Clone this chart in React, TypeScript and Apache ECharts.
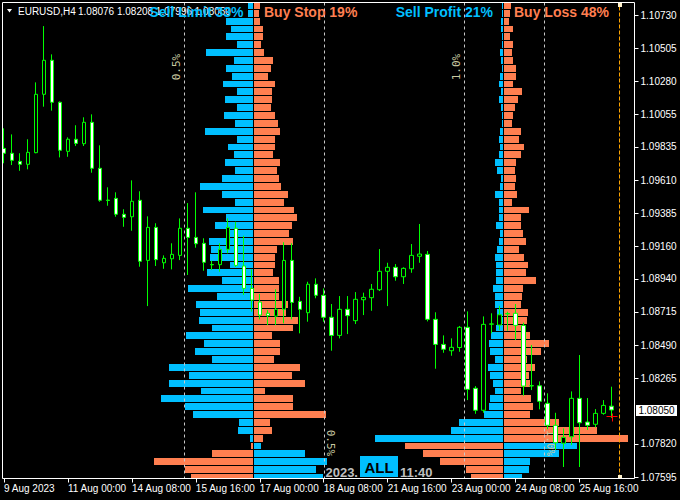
import React, { useEffect, useRef } from 'react';
import * as echarts from 'echarts';

const symbolName = 'EURUSD,H4';
const xTickLabels = ['9 Aug 2023', '11 Aug 00:00', '14 Aug 08:00', '15 Aug 16:00', '17 Aug 00:00', '18 Aug 08:00', '21 Aug 16:00', '23 Aug 00:00', '24 Aug 08:00', '25 Aug 16:00'];
const priceTicks = [1.1073, 1.10505, 1.1028, 1.10055, 1.09835, 1.0961, 1.09385, 1.0916, 1.0894, 1.08715, 1.0849, 1.08265, 1.0782, 1.07595];

const opens = [1.09825, 1.09792, 1.09737, 1.09717, 1.09796, 1.10192, 1.10423, 1.10138, 1.09805, 1.09887, 1.09857, 1.10002, 1.0969, 1.09474, 1.09486, 1.09378, 1.09361, 1.09473, 1.09065, 1.09289, 1.09049, 1.09076, 1.09099, 1.09283, 1.09221, 1.09181, 1.09037, 1.09036, 1.0914, 1.09283, 1.09027, 1.08875, 1.08782, 1.08706, 1.08687, 1.08733, 1.09065, 1.08787, 1.0871, 1.08903, 1.08828, 1.08679, 1.08556, 1.08733, 1.08656, 1.08798, 1.08812, 1.08866, 1.08991, 1.09018, 1.08954, 1.09008, 1.09093, 1.09106, 1.08665, 1.08495, 1.08452, 1.08474, 1.08611, 1.08197, 1.08048, 1.08632, 1.08626, 1.08702, 1.08706, 1.08624, 1.08215, 1.08214, 1.08095, 1.07946, 1.07824, 1.07868, 1.08129, 1.07968, 1.07953, 1.08027, 1.08076];
const highs = [1.09961, 1.0992, 1.09792, 1.09887, 1.10273, 1.10655, 1.10463, 1.10144, 1.099, 1.09982, 1.10036, 1.10056, 1.09846, 1.09561, 1.09527, 1.09412, 1.09608, 1.09534, 1.09364, 1.09317, 1.09099, 1.09181, 1.0935, 1.09454, 1.09527, 1.09215, 1.09063, 1.09181, 1.0935, 1.09327, 1.09232, 1.09004, 1.08837, 1.08728, 1.08869, 1.09188, 1.09181, 1.08818, 1.0892, 1.08943, 1.08875, 1.08769, 1.08823, 1.08823, 1.0885, 1.08846, 1.08905, 1.09142, 1.09049, 1.0904, 1.09018, 1.09176, 1.09312, 1.09129, 1.08713, 1.08556, 1.08536, 1.0862, 1.08719, 1.08212, 1.08685, 1.08706, 1.08757, 1.08717, 1.08769, 1.08642, 1.08491, 1.08244, 1.08163, 1.08031, 1.07925, 1.08176, 1.08423, 1.08131, 1.08056, 1.08117, 1.08208];
const lows = [1.09724, 1.09712, 1.09673, 1.09683, 1.09792, 1.10108, 1.10081, 1.09764, 1.09768, 1.09841, 1.09841, 1.0966, 1.09463, 1.09436, 1.09361, 1.09293, 1.09266, 1.09022, 1.08755, 1.09027, 1.09008, 1.09004, 1.09067, 1.08966, 1.09151, 1.08995, 1.09, 1.08988, 1.09113, 1.0902, 1.0883, 1.08717, 1.08665, 1.08626, 1.08626, 1.08638, 1.08665, 1.0857, 1.08649, 1.08808, 1.08649, 1.08452, 1.08536, 1.08565, 1.08633, 1.08694, 1.08723, 1.08857, 1.08755, 1.08927, 1.08905, 1.08981, 1.09049, 1.08651, 1.0833, 1.08438, 1.08418, 1.08445, 1.08117, 1.08024, 1.08031, 1.0857, 1.08592, 1.08588, 1.08525, 1.08147, 1.08185, 1.08054, 1.07919, 1.07778, 1.07663, 1.07812, 1.07663, 1.07914, 1.07932, 1.08018, 1.07996];
const closes = [1.09792, 1.09744, 1.09717, 1.09798, 1.10192, 1.10423, 1.10138, 1.09812, 1.09887, 1.09859, 1.10002, 1.0969, 1.09473, 1.09472, 1.09378, 1.09357, 1.09466, 1.09059, 1.09289, 1.0907, 1.09079, 1.09106, 1.09283, 1.09221, 1.09178, 1.09052, 1.09035, 1.0914, 1.09289, 1.09031, 1.08875, 1.08796, 1.08694, 1.0869, 1.08733, 1.09065, 1.0878, 1.08733, 1.08903, 1.08828, 1.08679, 1.08556, 1.08733, 1.0869, 1.08801, 1.08814, 1.08869, 1.08991, 1.09018, 1.08954, 1.09011, 1.09099, 1.09108, 1.08665, 1.08495, 1.08462, 1.08475, 1.08611, 1.0819, 1.08048, 1.08631, 1.08634, 1.08696, 1.08704, 1.08624, 1.08212, 1.08213, 1.08109, 1.07946, 1.07828, 1.07864, 1.08129, 1.07963, 1.07946, 1.08027, 1.08081, 1.0805];

// Volume profile rows (top row first); negative = drawn to the left of the profile centre
const hist1Blue = [-5.5, -5.5, -27.5, -22.5, -27.5, -16.5, -47.5, -19.5, -27.5, -21.5, -30.5, -16.5, -28.5, -16.5, -29.5, -18.5, -48.5, -16.5, -25.5, -19.5, -28.5, -18.5, -31.5, -53.5, -31.5, -18.5, -50.5, -27.5, -38.5, -24.5, -44.5, -42.5, -43.5, -23.5, -46.5, -31.5, -65.5, -36.5, -57.5, -53.5, -54.5, -41.5, -67.5, -49.5, -58.5, -41.5, -84.5, -64.5, -84.5, -52.5, -92.5, -68.5, -60.5, -14.5, -15.5, -3.5, 7.5, 51.5, 73.5, 62.5, 69.5];
const hist1Orange = [6.5, 5.5, 6.5, 9.5, 9.5, 7.5, 10.5, 19.5, 17.5, 14.5, 21.5, 18.5, 18.5, 17.5, 21.5, 24.5, 26.5, 21.5, 21.5, 19.5, 26.5, 23.5, 25.5, 27.5, 34.5, 30.5, 40.5, 43.5, 38.5, 35.5, 39.5, 23.5, 21.5, 21.5, 19.5, 25.5, 25.5, 25.5, 34.5, 32.5, 44.5, 39.5, 18.5, 26.5, 26.5, 20.5, 46.5, 38.5, 51.5, 11.5, 39.5, 39.5, 72.5, 16.5, 18.5, 9.5, -2.5, -41.5, -99.5, -68.5, -62.5];
const hist2Blue = [-1.5, -1.5, -2.5, -2.5, -1.5, -1.5, -3.5, -2.5, -1.5, -3.5, -4.5, -2.5, -4.5, -2.5, -1.5, -1.5, -3.5, -4.5, -3.5, -4.5, -8.5, -6.5, -2.5, -3.5, -8.5, -4.5, -4.5, -4.5, -7.5, -3.5, -4.5, -6.5, -8.5, -7.5, -7.5, -7.5, -10.5, -8.5, -8.5, -6.5, -6.5, -7.5, -12.5, -14.5, -13.5, -8.5, -15.5, -13.5, -10.5, -8.5, -13.5, -14.5, -19.5, -44.5, -52.5, -128.5, 73.5, 55.5, 26.5, 25.5, 18.5];
const hist2Orange = [7.5, 6.5, 5.5, 9.5, 6.5, 9.5, 8.5, 9.5, 12.5, 12.5, 9.5, 18.5, 14.5, 11.5, 9.5, 8.5, 17.5, 15.5, 20.5, 17.5, 12.5, 11.5, 12.5, 11.5, 13.5, 8.5, 25.5, 17.5, 17.5, 19.5, 22.5, 15.5, 20.5, 24.5, 22.5, 32.5, 19.5, 18.5, 17.5, 24.5, 23.5, 20.5, 26.5, 45.5, 37.5, 23.5, 31.5, 25.5, 26.5, 17.5, 27.5, 29.5, 26.5, 55.5, 93.5, 124.5, -98.5, -80.5, -63.5, -37.5, -32.5];

const hist1Titles = ['Sell Limit 33%', 'Buy Stop 19%'];
const hist2Titles = ['Sell Profit 21%', 'Buy Loss 48%'];
const hist1Scale = { value: 70, label: '0.5%' };
const hist2Scale = { value: 40, label: '1.0%' };
const lastPrice = 1.0805;
const markerPrice = 1.08011;
const footerTexts = ['2023.', 'ALL', '11:40'];

const BIN_TOP = 1.10819;
const BIN_STEP = 0.000534;
const Y_MIN = 1.07585;
const Y_MAX = 1.10815;
const SLOT_COUNT = 80;
const SHIFT_INDEX = 77;

const BLUE = '#00BFFF';
const ORANGE = '#FF7F50';
const FONT = '"Liberation Sans", Arial, sans-serif';

export default function App() {
  const ref = useRef<HTMLDivElement>(null);

  useEffect(() => {
    const el = ref.current as HTMLDivElement;
    const chart = echarts.init(el, null, { renderer: 'svg' });
    const candles = opens.map((o, i) => [o, closes[i], lows[i], highs[i]]);
    const slots = Array.from({ length: SLOT_COUNT }, (_, i) => String(i));
    const histData = (blue: number[], orange: number[]) => blue.map((b, i) => [i, b, orange[i]]);

    const renderHist = (params: any, api: any) => {
      const k = api.value(0) as number;
      const b = api.value(1) as number;
      const o = api.value(2) as number;
      const top = BIN_TOP - k * BIN_STEP;
      const bottom = top - BIN_STEP;
      const c0 = api.coord([0, top]);
      const cb = api.coord([b, bottom]);
      const co = api.coord([o, bottom]);
      const y0 = Math.round(c0[1]);
      const y1 = Math.round(cb[1]) - 1;
      const cs = params.coordSys;
      const mk = (endX: number, color: string) => {
        const left = endX < c0[0];
        const x0 = left ? Math.round(endX) : Math.ceil(c0[0]);
        const x1 = left ? Math.floor(c0[0]) : Math.round(endX);
        const shape = echarts.graphic.clipRectByRect(
          { x: x0, y: y0, width: x1 - x0, height: y1 - y0 },
          { x: cs.x, y: cs.y, width: cs.width, height: cs.height }
        );
        return shape ? { type: 'rect', shape, style: { fill: color } } : null;
      };
      const children = [mk(cb[0], BLUE), mk(co[0], ORANGE)].filter(Boolean);
      return { type: 'group', children };
    };

    chart.setOption({
      animation: false,
      backgroundColor: '#000',
      grid: [
        { left: -0.5, top: 2.5, width: 640, height: 476 },
        { left: 143.5, top: 2.5, width: 220, height: 476 },
        { left: 363.5, top: 2.5, width: 280, height: 476 },
      ],
      xAxis: [
        {
          type: 'category', gridIndex: 0, data: slots, boundaryGap: true,
          axisLine: { show: false },
          axisTick: { show: true, interval: 7, alignWithLabel: true, length: 4, lineStyle: { color: '#fff' } },
          axisLabel: {
            interval: 7, align: 'left', color: '#fff', fontSize: 10, fontFamily: FONT, margin: 5,
            formatter: (_v: string, i: number) => xTickLabels[i / 8] ?? '',
          },
          splitLine: { show: false },
        },
        { type: 'value', gridIndex: 1, min: -110, max: 110, show: false },
        { type: 'value', gridIndex: 2, min: -140, max: 140, show: false },
      ],
      yAxis: [
        {
          type: 'value', gridIndex: 0, min: Y_MIN, max: Y_MAX, position: 'right', offset: -5,
          axisLine: { show: false }, splitLine: { show: false },
          axisTick: { show: true, customValues: priceTicks, length: 4, lineStyle: { color: '#fff' } },
          axisLabel: {
            customValues: priceTicks, color: '#fff', fontSize: 10, fontFamily: FONT, margin: 6,
            formatter: (v: number) => Number(v).toFixed(5),
          },
        },
        { type: 'value', gridIndex: 1, min: Y_MIN, max: Y_MAX, show: false },
        { type: 'value', gridIndex: 2, min: Y_MIN, max: Y_MAX, show: false },
      ],
      series: [
        { type: 'custom', xAxisIndex: 1, yAxisIndex: 1, data: histData(hist1Blue, hist1Orange), renderItem: renderHist, z: 2, silent: true },
        { type: 'custom', xAxisIndex: 2, yAxisIndex: 2, data: histData(hist2Blue, hist2Orange), renderItem: renderHist, z: 2, silent: true },
        {
          type: 'candlestick', xAxisIndex: 0, yAxisIndex: 0, data: candles, barWidth: 4, z: 5, silent: true,
          itemStyle: {
            color: '#000000', color0: '#ffffff', borderColor: '#00ff00', borderColor0: '#00ff00',
            borderColorDoji: '#00ff00', borderWidth: 1,
          },
        },
      ],
    });

    const p1 = (v: number) => (chart.convertToPixel({ gridIndex: 1 }, [v, Y_MAX]) as number[])[0];
    const p2 = (v: number) => (chart.convertToPixel({ gridIndex: 2 }, [v, Y_MAX]) as number[])[0];
    const c1 = p1(0);
    const c2 = p2(0);
    const snap = (x: number) => Math.ceil(x) + 0.5;
    const shiftX = (chart.convertToPixel({ gridIndex: 0 }, [SHIFT_INDEX, lastPrice]) as number[])[0];
    const priceY = (chart.convertToPixel({ gridIndex: 0 }, [0, lastPrice]) as number[])[1];
    const marker = chart.convertToPixel({ gridIndex: 0 }, [opens.length - 1, markerPrice]) as number[];
    const mx = Math.round(marker[0]) + 0.5;
    const my = Math.round(marker[1]) + 0.5;
    const top = 2.5;
    const bottom = 478.5;

    const text = (x: number, y: number, t: string, fill: string, font: string, align = 'left', z = 60, rotation = 0) => ({
      type: 'text', x, y, z, rotation, silent: true,
      style: { text: t, fill, font, align, verticalAlign: 'middle', textAlign: align, textVerticalAlign: 'middle' },
    });
    const dash = (x: number) => ({
      type: 'line', z: 4, silent: true,
      shape: { x1: x, y1: top, x2: x, y2: bottom },
      style: { stroke: '#c8c8c8', lineWidth: 1, lineDash: [3, 3] },
    });

    const l1 = snap(p1(-hist1Scale.value));
    const r1 = snap(p1(hist1Scale.value));
    const l2 = snap(p2(-hist2Scale.value));
    const r2 = snap(p2(hist2Scale.value));
    const scaleFont = '11px "DejaVu Sans Mono", monospace';
    const scaleColor = '#c8c8a0';
    const titleFont = `bold 14px ${FONT}`;
    const last = opens.length - 1;
    const ohlc = [opens[last], highs[last], lows[last], closes[last]].map((v) => v.toFixed(5)).join(' ');

    const graphics: any[] = [
      { type: 'rect', z: 50, silent: true, shape: { x: 2.5, y: 2.5, width: 632, height: 476 }, style: { fill: 'none', stroke: '#ffffff', lineWidth: 1 } },
      dash(l1), dash(r1), dash(l2), dash(r2),
      text(l1 - 8, 67, hist1Scale.label, scaleColor, scaleFont, 'center', 3, Math.PI / 2),
      text(r1 + 6, 443, hist1Scale.label, scaleColor, scaleFont, 'center', 3, -Math.PI / 2),
      text(l2 - 8, 67, hist2Scale.label, scaleColor, scaleFont, 'center', 3, Math.PI / 2),
      text(r2 + 6, 443, hist2Scale.label, scaleColor, scaleFont, 'center', 3, -Math.PI / 2),
      {
        type: 'line', z: 6, silent: true,
        shape: { x1: shiftX, y1: top + 4, x2: shiftX, y2: bottom - 3 },
        style: { stroke: '#FFA500', lineWidth: 1, lineDash: [4, 2] },
      },
      { type: 'rect', z: 6, silent: true, shape: { x: shiftX - 1.5, y: 3, width: 4, height: 4 }, style: { fill: '#fff2cc' } },
      { type: 'rect', z: 6, silent: true, shape: { x: shiftX - 1.5, y: 475, width: 4, height: 3.5 }, style: { fill: '#fff2cc' } },
      { type: 'line', z: 7, silent: true, shape: { x1: mx - 6, y1: my, x2: mx + 5, y2: my }, style: { stroke: '#ff0000', lineWidth: 1 } },
      { type: 'line', z: 7, silent: true, shape: { x1: mx, y1: my - 3, x2: mx, y2: my + 5 }, style: { stroke: '#ff0000', lineWidth: 1 } },
      { type: 'polygon', z: 60, silent: true, shape: { points: [[7, 9], [12, 9], [9.5, 12.5]] }, style: { fill: '#ffffff' } },
      text(18, 11.5, symbolName, '#ffffff', `10px ${FONT}`),
      text(78, 11.5, ohlc, '#ffffff', `10px ${FONT}`),
      text(c1 - 10, 12, hist1Titles[0], BLUE, titleFont, 'right', 61),
      text(c1 + 10.5, 12, hist1Titles[1], ORANGE, titleFont, 'left', 61),
      text(c2 - 10.5, 12, hist2Titles[0], BLUE, titleFont, 'right', 61),
      text(c2 + 10.5, 12, hist2Titles[1], ORANGE, titleFont, 'left', 61),
      { type: 'rect', z: 60, silent: true, shape: { x: 636, y: Math.round(priceY) - 5, width: 41, height: 11 }, style: { fill: '#ffffff' } },
      text(656.5, Math.round(priceY) + 0.5, lastPrice.toFixed(5), '#000000', `10px ${FONT}`, 'center', 61),
      text(358, 472.5, footerTexts[0], '#bebebe', `bold 13px ${FONT}`, 'right', 60),
      { type: 'rect', z: 60, silent: true, shape: { x: 360, y: 456, width: 38, height: 21 }, style: { fill: BLUE } },
      text(379, 467, footerTexts[1], '#000000', `bold 15px ${FONT}`, 'center', 61),
      text(400, 472.5, footerTexts[2], '#bebebe', `bold 13px ${FONT}`, 'left', 60),
    ];
    chart.setOption({ graphic: graphics });

    return () => chart.dispose();
  }, []);

  return (
    <div
      ref={ref}
      style={{ position: 'fixed', left: 0, top: 0, width: 680, height: 500, background: '#000' }}
    />
  );
}
